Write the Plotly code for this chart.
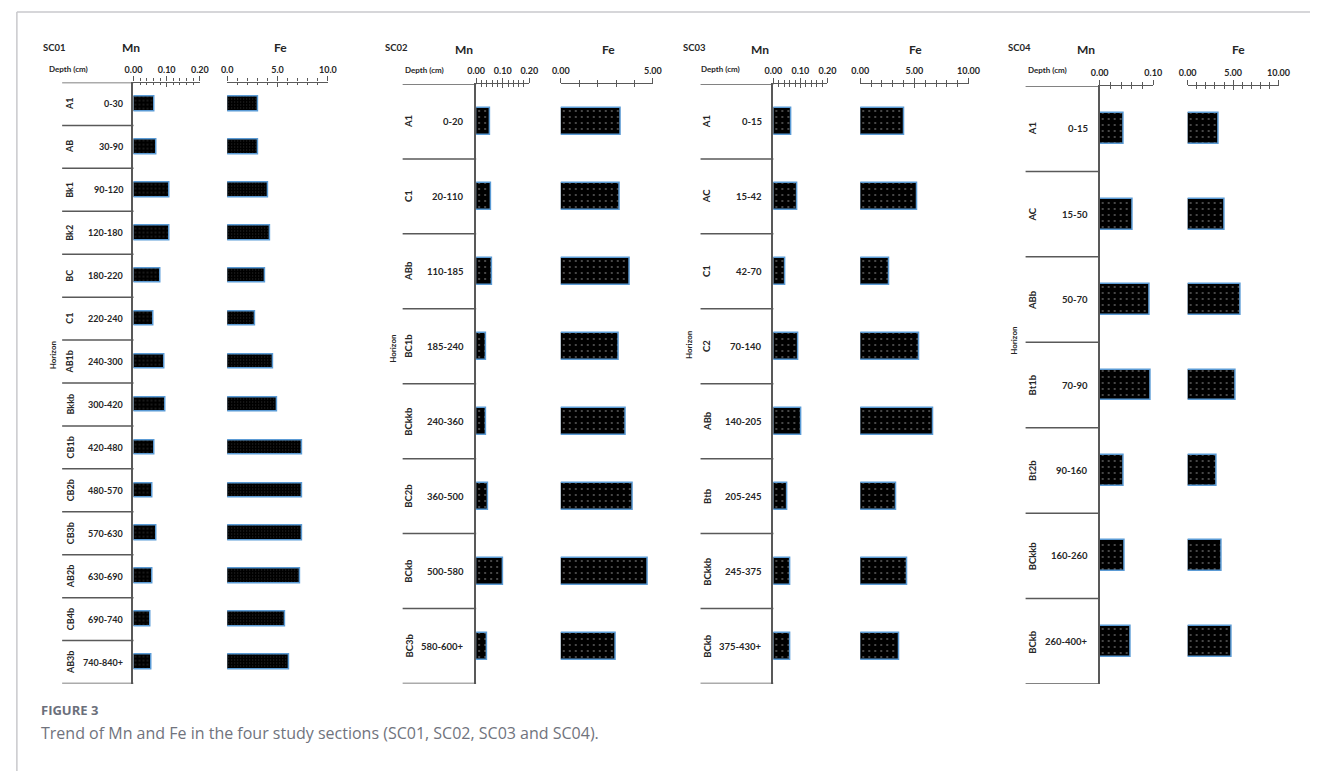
import plotly.graph_objects as go

W, H = 1322, 771

# ---------------- data ----------------
sc01_horizons = ["A1", "AB", "Bk1", "Bk2", "BC", "C1", "AB1b", "Bkkb",
                 "CB1b", "CB2b", "CB3b", "AB2b", "CB4b", "AB3b"]
sc01_depths = ["0-30", "30-90", "90-120", "120-180", "180-220", "220-240", "240-300",
               "300-420", "420-480", "480-570", "570-630", "630-690", "690-740", "740-840+"]
sc01_mn = [0.062, 0.068, 0.107, 0.107, 0.081, 0.060, 0.092, 0.097,
           0.064, 0.056, 0.070, 0.057, 0.050, 0.053]
sc01_fe = [3.10, 3.07, 4.08, 4.31, 3.75, 2.77, 4.60, 5.00,
           7.48, 7.41, 7.45, 7.30, 5.80, 6.20]

sc02_horizons = ["A1", "C1", "ABb", "BC1b", "BCkkb", "BC2b", "BCkb", "BC3b"]
sc02_depths = ["0-20", "20-110", "110-185", "185-240", "240-360", "360-500", "500-580", "580-600+"]
sc02_mn = [0.054, 0.057, 0.060, 0.038, 0.038, 0.045, 0.100, 0.042]
sc02_fe = [3.26, 3.22, 3.76, 3.17, 3.54, 3.92, 4.70, 2.99]

sc03_horizons = ["A1", "AC", "C1", "C2", "ABb", "Btb", "BCkkb", "BCkb"]
sc03_depths = ["0-15", "15-42", "42-70", "70-140", "140-205", "205-245", "245-375", "375-430+"]
sc03_mn = [0.067, 0.088, 0.045, 0.092, 0.103, 0.052, 0.063, 0.063]
sc03_fe = [4.03, 5.27, 2.64, 5.45, 6.73, 3.36, 4.36, 3.64]

sc04_horizons = ["A1", "AC", "ABb", "Bt1b", "Bt2b", "BCkkb", "BCkb"]
sc04_depths = ["0-15", "15-50", "50-70", "70-90", "90-160", "160-260", "260-400+"]
sc04_mn = [0.044, 0.062, 0.093, 0.095, 0.044, 0.047, 0.058]
sc04_fe = [3.43, 4.04, 5.88, 5.23, 3.17, 3.72, 4.80]

section_names = ["SC01", "SC02", "SC03", "SC04"]
mn_ranges = [0.2, 0.2, 0.2, 0.1]
fe_ranges = [10, 5, 10, 10]
mn_ticks = [[0, 0.1, 0.2], [0, 0.1, 0.2], [0, 0.1, 0.2], [0, 0.1]]
mn_ticktext = [["0.00", "0.10", "0.20"], ["0.00", "0.10", "0.20"],
               ["0.00", "0.10", "0.20"], ["0.00", "0.10"]]
fe_ticks = [[0, 5, 10], [0, 5], [0, 5, 10], [0, 5, 10]]
fe_ticktext = [["0.0", "5.0", "10.0"], ["0.00", "5.00"],
               ["0.00", "5.00", "10.00"], ["0.00", "5.00", "10.00"]]

sections = [
    (sc01_horizons, sc01_depths, sc01_mn, sc01_fe),
    (sc02_horizons, sc02_depths, sc02_mn, sc02_fe),
    (sc03_horizons, sc03_depths, sc03_mn, sc03_fe),
    (sc04_horizons, sc04_depths, sc04_mn, sc04_fe),
]

# ---------------- layout geometry (pixels) ----------------
geom = [
    dict(mn=(126.5, 194.0), fe=(221.7, 324.0), top=82.5, bottom=683.5, left=54,
         hz_x=62, dep_r=118, sc=(46, 47), mn_t=(124, 47), fe_t=(276, 47), dep_h=(60, 69),
         hor=(45, 355), bw=0.34, fs=9, psize=(4, 3)),
    dict(mn=(474.7, 528.7), fe=(560.7, 654.3), top=84, bottom=683.5, left=400,
         hz_x=406, dep_r=464, sc=(394, 47), mn_t=(462, 50), fe_t=(609, 50), dep_h=(422, 70),
         hor=(390, 348), bw=0.36, fs=9.5, psize=(6, 6)),
    dict(mn=(776.7, 831.7), fe=(865.0, 975.0), top=84, bottom=683.5, left=702.7,
         hz_x=709, dep_r=767, sc=(697, 47), mn_t=(763, 50), fe_t=(921, 50), dep_h=(723, 69),
         hor=(691, 345), bw=0.36, fs=9.5, psize=(6, 6)),
    dict(mn=(1108.3, 1162.7), fe=(1197.7, 1290.0), top=86, bottom=684, left=1033,
         hz_x=1040, dep_r=1098, sc=(1027, 47), mn_t=(1094, 50), fe_t=(1249, 50), dep_h=(1055, 70),
         hor=(1021, 340), bw=0.36, fs=9.5, psize=(6, 6)),
]

FONT = "Lato"
TXT = "#262626"
LINE = "#595959"
BAR_EDGE = "#5b9bd5"


def px(x):
    return x / W


def py(y):
    return 1 - y / H


fig = go.Figure()
layout = dict(
    width=W, height=H, margin=dict(l=0, r=0, t=0, b=0),
    paper_bgcolor="white", plot_bgcolor="rgba(0,0,0,0)",
    showlegend=False, bargap=0,
)
annotations = []
shapes = []

n_base = 8
for s, (hz, dep, mn, fe) in enumerate(sections):
    g = geom[s]
    n = len(hz)
    yi = s + 1
    yname = "y" if yi == 1 else f"y{yi}"
    mn_i, fe_i = 2 * s + 1, 2 * s + 2
    xn_mn = "x" if mn_i == 1 else f"x{mn_i}"
    xn_fe = f"x{fe_i}"

    # vertical axis: one row per horizon, top to bottom
    layout["yaxis" if yi == 1 else f"yaxis{yi}"] = dict(
        type="category", categoryorder="array", categoryarray=hz,
        range=[n - 0.5, -0.5], domain=[py(g["bottom"]), py(g["top"])],
        anchor=xn_mn, showline=True, linecolor=LINE, linewidth=1.5,
        showticklabels=False, ticks="", showgrid=False, zeroline=False, fixedrange=True,
    )

    def xaxis_def(dom, rng, tv, tt, dmin, anchor):
        return dict(
            domain=[px(dom[0]), px(dom[1])], range=[0, rng], anchor=anchor, side="top",
            showline=True, linecolor=LINE, linewidth=1.2,
            tickmode="array", tickvals=tv, ticktext=tt,
            ticks="outside", ticklen=5, tickwidth=1, tickcolor=LINE,
            minor=dict(tickmode="linear", tick0=0, dtick=dmin, ticks="outside",
                       ticklen=3, tickwidth=1, tickcolor=LINE),
            tickfont=dict(family=FONT, size=9, color=TXT, weight="bold"),
            showgrid=False, zeroline=False, fixedrange=True,
        )

    layout["xaxis" if mn_i == 1 else f"xaxis{mn_i}"] = xaxis_def(
        g["mn"], mn_ranges[s], mn_ticks[s], mn_ticktext[s], 0.02, yname)
    layout[f"xaxis{fe_i}"] = xaxis_def(
        g["fe"], fe_ranges[s], fe_ticks[s], fe_ticktext[s], 1, yname)

    # companion axes carrying the downward half of the cross tick marks
    for base_i, rng, tv, dmin in ((mn_i, mn_ranges[s], mn_ticks[s], 0.02),
                                  (fe_i, fe_ranges[s], fe_ticks[s], 1)):
        oi = n_base + base_i
        base_name = "x" if base_i == 1 else f"x{base_i}"
        layout[f"xaxis{oi}"] = dict(
            overlaying=base_name, range=[0, rng], anchor=yname, side="top",
            showline=False, showticklabels=False, showgrid=False, zeroline=False,
            tickmode="array", tickvals=tv, ticks="inside", ticklen=4, tickwidth=1,
            tickcolor=LINE,
            minor=dict(tickmode="linear", tick0=0, dtick=dmin, ticks="inside",
                       ticklen=2.5, tickwidth=1, tickcolor=LINE),
            fixedrange=True,
        )
        fig.add_trace(go.Scatter(x=[], y=[], xaxis=f"x{oi}", yaxis=yname,
                                 hoverinfo="skip"))

    # bars
    for vals, xn, psz in ((mn, xn_mn, g["psize"][0]), (fe, xn_fe, g["psize"][1])):
        fig.add_trace(go.Bar(
            x=vals, y=hz, orientation="h", xaxis=xn, yaxis=yname, width=g["bw"],
            marker=dict(color="black",
                        line=dict(color=BAR_EDGE, width=1.5),
                        pattern=dict(shape=".", fgcolor="#cfcfcf", bgcolor="black",
                                     size=psz, solidity=0.07)),
            hoverinfo="x+y",
        ))

    # row separators of the horizon table
    for k in range(n + 1):
        shapes.append(dict(type="line", xref="paper", yref=yname,
                           x0=px(g["left"]), x1=px(g["mn"][0]),
                           y0=k - 0.5, y1=k - 0.5,
                           line=dict(color=LINE, width=1.5)))

    # horizon names (rotated) and depth intervals
    for h, d in zip(hz, dep):
        annotations.append(dict(x=px(g["hz_x"]), y=h, xref="paper", yref=yname,
                                text=h, textangle=-90, showarrow=False,
                                xanchor="center", yanchor="middle",
                                font=dict(family=FONT, size=g["fs"], color=TXT, weight="bold")))
        annotations.append(dict(x=px(g["dep_r"]), y=h, xref="paper", yref=yname,
                                text=d, showarrow=False, xanchor="right", yanchor="middle",
                                font=dict(family=FONT, size=g["fs"], color=TXT, weight="bold")))

    # headings
    def head(pos, text, size, **kw):
        annotations.append(dict(x=px(pos[0]), y=py(pos[1]), xref="paper", yref="paper",
                                text=text, showarrow=False, xanchor="center", yanchor="middle",
                                font=dict(family=FONT, size=size, color=TXT, weight="bold"), **kw))

    head(g["sc"], section_names[s], 9.5)
    head(g["mn_t"], "Mn", 12)
    head(g["fe_t"], "Fe", 12)
    head(g["dep_h"], "Depth (cm)", 8)
    head(g["hor"], "Horizon", 8, textangle=-90)

# outer frame
shapes.append(dict(type="line", xref="paper", yref="paper", x0=px(8), x1=1,
                   y0=py(12), y1=py(12), line=dict(color="#c9c9cc", width=1.5)))
shapes.append(dict(type="line", xref="paper", yref="paper", x0=px(8), x1=px(8),
                   y0=py(12), y1=0, line=dict(color="#c9c9cc", width=1.5)))

# caption
annotations.append(dict(x=px(30), y=py(710), xref="paper", yref="paper", text="FIGURE 3",
                        showarrow=False, xanchor="left", yanchor="middle",
                        font=dict(family="Open Sans", size=13, color="#6b6f7b", weight="bold")))
annotations.append(dict(x=px(30), y=py(733), xref="paper", yref="paper",
                        text="Trend of Mn and Fe in the four study sections (SC01, SC02, SC03 and SC04).",
                        showarrow=False, xanchor="left", yanchor="middle",
                        font=dict(family="Open Sans", size=16, color="#70737d")))

layout["annotations"] = annotations
layout["shapes"] = shapes
fig.update_layout(**layout)
fig.write_html("out.html")
